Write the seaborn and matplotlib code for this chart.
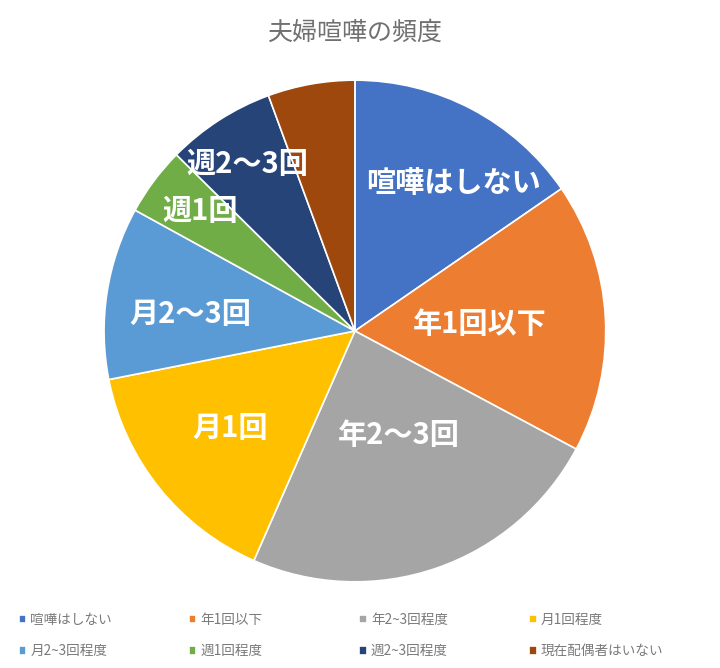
import numpy as np
import matplotlib
matplotlib.use("Agg")
import matplotlib.pyplot as plt
import seaborn as sns

# data
categories = ["喧嘩はしない", "年1回以下", "年2~3回程度", "月1回程度",
              "月2~3回程度", "週1回程度", "週2~3回程度", "現在配偶者はいない"]
slice_labels = ["喧嘩はしない", "年1回以下", "年2～3回", "月1回",
                "月2～3回", "週1回", "週2～3回", ""]
shares = [15.4, 17.4, 23.8, 15.3, 11.1, 4.4, 7.0, 5.6]
colors = ["#4472C4", "#ED7D31", "#A5A5A5", "#FFC000",
          "#5B9BD5", "#70AD47", "#264478", "#9E480E"]
# label placement: radius fraction and clockwise angle shift (deg) from slice middle
label_dist = [0.71, 0.50, 0.45, 0.63, 0.66, 0.78, 0.79, 0.6]
label_shift = [6, 0, -4, 1, -3, 1, 0, 0]

sns.set_theme(style="white")
plt.rcParams['font.family'] = ['Noto Sans CJK JP', 'DejaVu Sans']

fig = plt.figure(figsize=(7.2, 6.68), dpi=100)
ax = fig.add_axes([0.1444, 0.129, 0.697, 0.751])

wedges, _ = ax.pie(shares, colors=colors, startangle=90, counterclock=False,
                   radius=1.0, wedgeprops=dict(edgecolor="white", linewidth=1.2))
ax.set_xlim(-1, 1)
ax.set_ylim(-1, 1)
ax.set_aspect("equal")
ax.axis("off")

for w, lab, d, s in zip(wedges, slice_labels, label_dist, label_shift):
    if not lab:
        continue
    mid = np.deg2rad((w.theta1 + w.theta2) / 2 - s)
    ax.text(d * np.cos(mid), d * np.sin(mid), lab, ha="center", va="center",
            color="white", fontsize=21, fontweight="bold")

fig.text(0.492, 0.951, "夫婦喧嘩の頻度", ha="center", va="center",
         fontsize=18, color="#707070")

# legend: 4 evenly spaced columns, 2 rows (row-major order)
col_x = [0.026, 0.262, 0.499, 0.735]
for c, x in enumerate(col_x):
    idx = [c, c + 4]
    leg = fig.legend([wedges[i] for i in idx], [categories[i] for i in idx],
                     loc="upper left", bbox_to_anchor=(x, 0.083), frameon=False,
                     fontsize=9.8, handlelength=0.55, handleheight=0.55,
                     handletextpad=0.3, labelspacing=1.3,
                     borderpad=0, borderaxespad=0)
    for t in leg.get_texts():
        t.set_color("#7a7a7a")

fig.savefig("out.png", dpi=100, facecolor="white")
